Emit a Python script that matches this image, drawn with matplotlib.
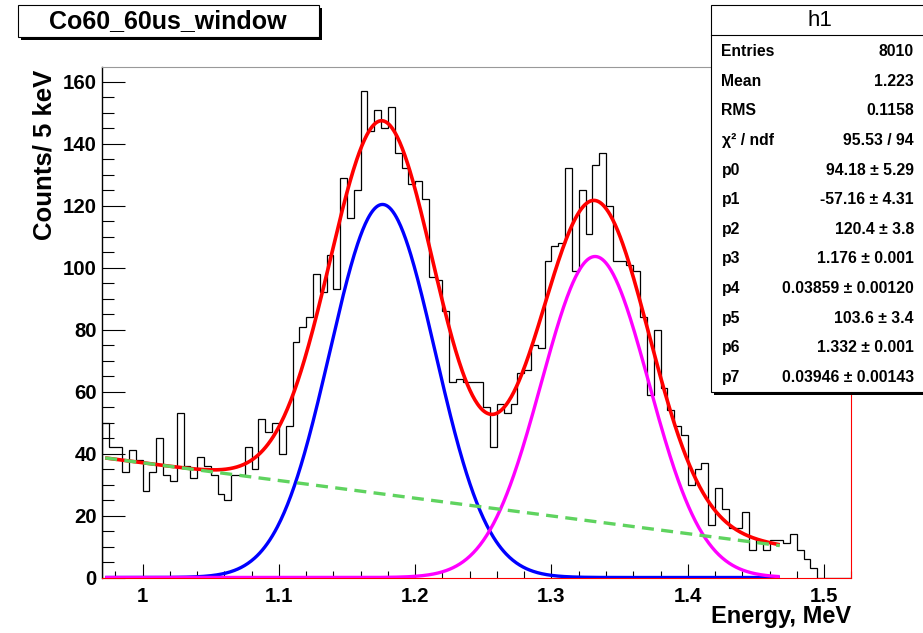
import numpy as np
import matplotlib
matplotlib.use("Agg")
import matplotlib.pyplot as plt
from matplotlib.patches import Rectangle
from matplotlib.lines import Line2D

plt.rcParams["font.family"] = ["Liberation Sans", "DejaVu Sans"]

# ---- histogram: 5 keV bins starting at 0.97 MeV ----
bin_lo = 0.97
bin_width = 0.005
counts = [
    50, 42, 42, 34, 41, 38, 28, 34, 45, 33,
    31, 53, 36, 32, 39, 36, 33, 27, 25, 33,
    33, 42, 35, 51, 47, 50, 40, 49, 76, 81,
    84, 98, 92, 104, 93, 129, 116, 125, 157, 144,
    151, 145, 152, 137, 132, 127, 128, 122, 97, 96,
    86, 63, 64, 63, 63, 63, 55, 42, 56, 53,
    56, 66, 67, 75, 74, 102, 107, 108, 132, 99,
    125, 111, 133, 137, 120, 102, 102, 101, 99, 84,
    59, 80, 61, 54, 49, 46, 30, 35, 37, 17,
    29, 22, 16, 16, 21, 9, 12, 9, 12, 12,
    11, 14, 9, 6, 3, 0, 0, 0, 0, 0,
]

# ---- fit: pol1 + gaus + gaus ----
param_names = ["p0", "p1", "p2", "p3", "p4", "p5", "p6", "p7"]
param_vals = [94.18, -57.16, 120.4, 1.176, 0.03859, 103.6, 1.332, 0.03946]
param_errs = [5.29, 4.31, 3.8, 0.001, 0.00120, 3.4, 0.001, 0.00143]
param_fmts = ["%.2f", "%.2f", "%.1f", "%.3f", "%.5f", "%.1f", "%.3f", "%.5f"]
fit_lo, fit_hi = 0.9725, 1.4675

entries = 8010
mean_val = 1.223
rms_val = 0.1158
chi2, ndf = 95.53, 94

hist_name = "h1"
title = "Co60_60us_window"
xlabel = "Energy, MeV"
ylabel = "Counts/ 5 keV"
xticks = [1.0, 1.1, 1.2, 1.3, 1.4, 1.5]
xtick_labels = ["1", "1.1", "1.2", "1.3", "1.4", "1.5"]
yticks = [0, 20, 40, 60, 80, 100, 120, 140, 160]

W, H = 923, 633


def fx(x):
    return x / W


def fy(y):
    return 1 - y / H


fig = plt.figure(figsize=(W / 100, H / 100), dpi=100)
fig.patch.set_facecolor("white")

ax_l, ax_r, ax_t, ax_b = 101.75, 851.3, 66.7, 577.5
ax = fig.add_axes([fx(ax_l), fy(ax_b), (ax_r - ax_l) / W, (ax_b - ax_t) / H])

edges = bin_lo + bin_width * np.arange(len(counts) + 1)
ax.stairs(counts, edges, color="black", lw=0.9, zorder=2)

p = param_vals
x = np.linspace(fit_lo, fit_hi, 800)
bkg = p[0] + p[1] * x
g1 = p[2] * np.exp(-0.5 * ((x - p[3]) / p[4]) ** 2)
g2 = p[5] * np.exp(-0.5 * ((x - p[6]) / p[7]) ** 2)
total = bkg + g1 + g2

ax.plot(x, total, color="#ff0000", lw=2.6, zorder=3, solid_capstyle="butt")
ax.plot(x, g1, color="#0000ff", lw=2.4, zorder=4, solid_capstyle="butt")
ax.plot(x, g2, color="#ff00ff", lw=2.4, zorder=5, solid_capstyle="butt")
ax.plot(x, bkg, color="#5fd35f", lw=2.4, zorder=6, dashes=(3.6, 2.2))

ymax = max(counts) * 1.05
ax.set_xlim(bin_lo, bin_lo + bin_width * len(counts))
ax.set_ylim(0, ymax)

ax.set_xticks(xticks)
ax.set_xticklabels(xtick_labels, fontsize=14.7, fontweight="bold")
ax.set_xticks(np.arange(0.98, 1.521, 0.02), minor=True)
ax.set_yticks(yticks)
ax.set_yticklabels([str(v) for v in yticks], fontsize=14.7, fontweight="bold")
ax.set_yticks(np.arange(0, 165, 5), minor=True)

ax.tick_params(axis="x", which="major", direction="in", length=10, width=0.8,
               pad=7, top=False, colors="black")
ax.tick_params(axis="x", which="minor", direction="in", length=5, width=0.8, top=False)
ax.tick_params(axis="y", which="major", direction="in", length=16.5, width=0.8,
               pad=3.5, right=False)
ax.tick_params(axis="y", which="minor", direction="in", length=8.6, width=0.8, right=False)

ax.spines["left"].set_color("black")
ax.spines["left"].set_linewidth(1.0)
ax.spines["bottom"].set_color("#ff0000")
ax.spines["bottom"].set_linewidth(0.8)
ax.spines["right"].set_color("#ff0000")
ax.spines["right"].set_linewidth(0.8)
ax.spines["top"].set_color("#999999")
ax.spines["top"].set_linewidth(0.8)

# axis titles, aligned to the far ends of the axes
fig.text(fx(851), fy(616), xlabel, ha="right", va="center",
         fontsize=17, fontweight="bold")
fig.text(fx(45), fy(70), ylabel, ha="center", va="top", rotation=90,
         fontsize=18.5, fontweight="bold")

# ---- title box with shadow ----
tb_x0, tb_y0, tb_x1, tb_y1 = 17.5, 5, 318.5, 36.7
sh = 3
fig.add_artist(Rectangle((fx(tb_x0 + sh), fy(tb_y1 + sh)), (tb_x1 - tb_x0) / W,
                         (tb_y1 - tb_y0) / H, transform=fig.transFigure,
                         facecolor="black", edgecolor="none", zorder=5))
fig.add_artist(Rectangle((fx(tb_x0), fy(tb_y1)), (tb_x1 - tb_x0) / W,
                         (tb_y1 - tb_y0) / H, transform=fig.transFigure,
                         facecolor="white", edgecolor="black", lw=0.8, zorder=6))
fig.text(fx((tb_x0 + tb_x1) / 2), fy(21.5), title, ha="center", va="center",
         fontsize=18, fontweight="bold", zorder=7)

# ---- statistics box ----
sb_x0, sb_y0, sb_x1, sb_y1 = 711, 5, 930, 392
fig.add_artist(Rectangle((fx(sb_x0 + sh), fy(sb_y1 + sh)), (sb_x1 - sb_x0) / W,
                         (sb_y1 - sb_y0) / H, transform=fig.transFigure,
                         facecolor="black", edgecolor="none", zorder=5))
fig.add_artist(Rectangle((fx(sb_x0), fy(sb_y1)), (sb_x1 - sb_x0) / W,
                         (sb_y1 - sb_y0) / H, transform=fig.transFigure,
                         facecolor="white", edgecolor="black", lw=0.8, zorder=6))
fig.add_artist(Line2D([fx(sb_x0), fx(sb_x1)], [fy(34.5), fy(34.5)],
                      transform=fig.transFigure, color="black", lw=0.8, zorder=7))
fig.text(fx(820), fy(20), hist_name, ha="center", va="center",
         fontsize=16, zorder=7)

rows = [
    ("Entries", "%d" % entries),
    ("Mean", "%.3f" % mean_val),
    ("RMS", "%.4f" % rms_val),
    ("χ² / ndf", "%.2f / %d" % (chi2, ndf)),
]
for name, val, err, fmt in zip(param_names, param_vals, param_errs, param_fmts):
    rows.append((name, (fmt % val) + " ± " + (fmt % err)))

row_y0, row_dy = 51.7, 29.6
for i, (lab, txt) in enumerate(rows):
    yy = row_y0 + i * row_dy
    fig.text(fx(721.5), fy(yy), lab, ha="left", va="center", fontsize=11.3,
             fontweight="bold", zorder=7)
    fig.text(fx(914), fy(yy), txt, ha="right", va="center", fontsize=11.3,
             fontweight="bold", zorder=7)

fig.savefig("out.png", dpi=100)
